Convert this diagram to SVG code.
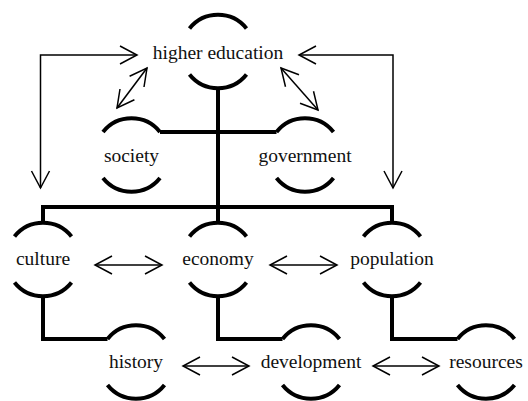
<svg xmlns="http://www.w3.org/2000/svg" width="528" height="401" viewBox="0 0 528 401">
<style>
.arc{fill:none;stroke:#000;stroke-width:4}
.thick{fill:none;stroke:#000;stroke-width:4;stroke-linejoin:miter}
.thin{fill:none;stroke:#000;stroke-width:1.5;marker-start:url(#ah);marker-end:url(#ah)}
.lbl{font-family:"Liberation Serif","Times New Roman",serif;font-size:19.5px;fill:#111;text-anchor:middle}
</style>
<defs>
<marker id="ah" markerUnits="userSpaceOnUse" markerWidth="20" markerHeight="20" viewBox="-18 -10 20 20" refX="0" refY="0" orient="auto-start-reverse" overflow="visible">
<path d="M-17,-9 L0,0 L-17,9" fill="none" stroke="#000" stroke-width="1.5"/>
</marker>
</defs>
<g id="connectors">
<path class="thick" d="M218,88 V207"/>
<path class="thick" d="M160,132 H276.5"/>
<path class="thick" d="M43,223 V207 H392 V223"/>
<path class="thick" d="M218,207 V223"/>
<path class="thick" d="M43,296 V339 H107.5"/>
<path class="thick" d="M218,296 V339 H282.5"/>
<path class="thick" d="M392,296 V339 H457.5"/>
<path class="thin" d="M137,55 H40.5 V188"/>
<path class="thin" d="M299,55 H393 V188"/>
<path class="thin" d="M147,68 L117,108"/>
<path class="thin" d="M281,68 L318,110"/>
<path class="thin" d="M95,265 H162"/>
<path class="thin" d="M270,265 H337"/>
<path class="thin" d="M183,366 H249"/>
<path class="thin" d="M373,366 H439"/>
</g>
<g id="higher-education">
<path class="arc" d="M189.5,28.5 A36.5,36.5 0 0 1 246.5,28.5"/>
<path class="arc" d="M189.5,74.5 A36.5,36.5 0 0 0 246.5,74.5"/>
<text class="lbl" x="218" y="58.5">higher education</text>
</g>
<g id="society">
<path class="arc" d="M103,132 A36.5,36.5 0 0 1 160,132"/>
<path class="arc" d="M103,178 A36.5,36.5 0 0 0 160,178"/>
<text class="lbl" x="131.5" y="161.5">society</text>
</g>
<g id="government">
<path class="arc" d="M276.5,132 A36.5,36.5 0 0 1 333.5,132"/>
<path class="arc" d="M276.5,178 A36.5,36.5 0 0 0 333.5,178"/>
<text class="lbl" x="305" y="161.5">government</text>
</g>
<g id="culture">
<path class="arc" d="M14.5,236.5 A36.5,36.5 0 0 1 71.5,236.5"/>
<path class="arc" d="M14.5,282.5 A36.5,36.5 0 0 0 71.5,282.5"/>
<text class="lbl" x="43" y="265">culture</text>
</g>
<g id="economy">
<path class="arc" d="M189.5,236.5 A36.5,36.5 0 0 1 246.5,236.5"/>
<path class="arc" d="M189.5,282.5 A36.5,36.5 0 0 0 246.5,282.5"/>
<text class="lbl" x="218" y="265">economy</text>
</g>
<g id="population">
<path class="arc" d="M363.5,236.5 A36.5,36.5 0 0 1 420.5,236.5"/>
<path class="arc" d="M363.5,282.5 A36.5,36.5 0 0 0 420.5,282.5"/>
<text class="lbl" x="392" y="265">population</text>
</g>
<g id="history">
<path class="arc" d="M107.5,339 A36.5,36.5 0 0 1 164.5,339"/>
<path class="arc" d="M107.5,385 A36.5,36.5 0 0 0 164.5,385"/>
<text class="lbl" x="136" y="368">history</text>
</g>
<g id="development">
<path class="arc" d="M282.5,339 A36.5,36.5 0 0 1 339.5,339"/>
<path class="arc" d="M282.5,385 A36.5,36.5 0 0 0 339.5,385"/>
<text class="lbl" x="311" y="368">development</text>
</g>
<g id="resources">
<path class="arc" d="M457.5,339 A36.5,36.5 0 0 1 514.5,339"/>
<path class="arc" d="M457.5,385 A36.5,36.5 0 0 0 514.5,385"/>
<text class="lbl" x="486" y="368">resources</text>
</g>
</svg>
